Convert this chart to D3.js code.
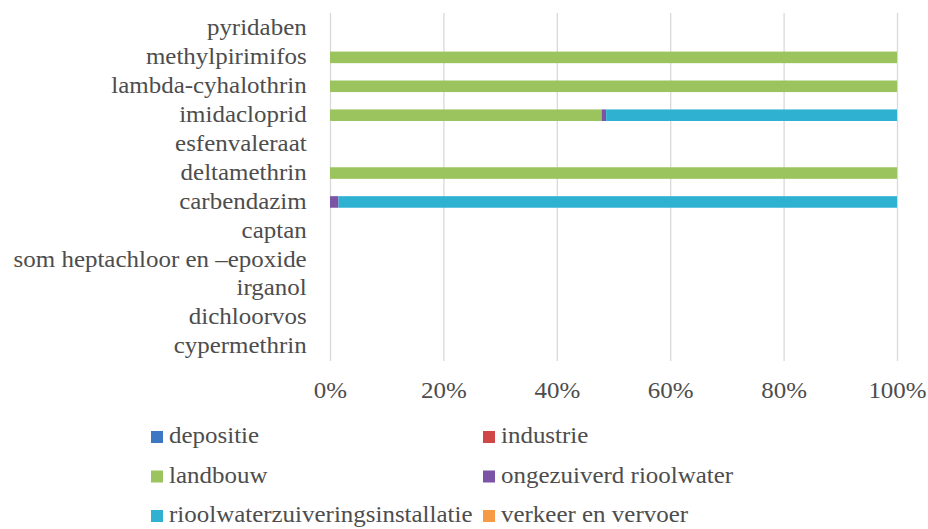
<!DOCTYPE html>
<html>
<head>
<meta charset="utf-8">
<script src="https://cdn.jsdelivr.net/npm/d3@7"></script>
<style>
  html, body { margin: 0; padding: 0; background: #fff; }
  text { font-family: "Liberation Serif", "Times New Roman", serif; fill: #4d4d4d; }
</style>
</head>
<body>
<div id="chart"></div>
<script>
const categories = [
  "pyridaben", "methylpirimifos", "lambda-cyhalothrin", "imidacloprid",
  "esfenvaleraat", "deltamethrin", "carbendazim", "captan",
  "som heptachloor en \u2013epoxide", "irganol", "dichloorvos", "cypermethrin"
];

const seriesNames = [
  "depositie", "industrie", "landbouw", "ongezuiverd rioolwater",
  "rioolwaterzuiveringsinstallatie", "verkeer en vervoer"
];

const seriesColours = ["#3d76c2", "#cf4747", "#9bc45f", "#7b54a6", "#2fb1d1", "#f79a46"];

// share per category (%), same order as categories
const depositie = [0, 0, 0, 0, 0, 0, 0, 0, 0, 0, 0, 0];
const industrie = [0, 0, 0, 0, 0, 0, 0, 0, 0, 0, 0, 0];
const landbouw = [0, 100, 100, 47.9, 0, 100, 0, 0, 0, 0, 0, 0];
const ongezuiverd = [0, 0, 0, 0.8, 0, 0, 1.5, 0, 0, 0, 0, 0];
const rwzi = [0, 0, 0, 51.3, 0, 0, 98.5, 0, 0, 0, 0, 0];
const verkeer = [0, 0, 0, 0, 0, 0, 0, 0, 0, 0, 0, 0];

const tickValues = [0, 20, 40, 60, 80, 100];
const tickLabels = ["0%", "20%", "40%", "60%", "80%", "100%"];

const w = 928;
const h = 529;
const margin = { top: 14, right: 31, bottom: 168, left: 330 };
const fontSize = 22.5;
const stretch = 1.11;

const seriesValues = [depositie, industrie, landbouw, ongezuiverd, rwzi, verkeer];
const rows = categories.map((c, i) => {
  const row = { category: c };
  seriesNames.forEach((s, j) => (row[s] = seriesValues[j][i]));
  return row;
});

const stacked = d3.stack().keys(seriesNames)(rows);

const svg = d3.select("#chart").append("svg").attr("width", w).attr("height", h);

const xScale = d3.scaleLinear().domain([0, 100]).range([margin.left, w - margin.right]);
const yScale = d3
  .scaleBand()
  .domain(categories)
  .range([margin.top, h - margin.bottom])
  .paddingInner(0.6)
  .paddingOuter(0.3);

// gridlines + x tick labels
const xAxis = svg
  .append("g")
  .attr("transform", `translate(0,${h - margin.bottom})`)
  .call(
    d3.axisBottom(xScale)
      .tickValues(tickValues)
      .tickSize(-(h - margin.top - margin.bottom + 1))
      .tickFormat((d, i) => tickLabels[i])
  );
xAxis.select(".domain").remove();
xAxis.selectAll(".tick line").attr("stroke", "#d9d9d9").attr("stroke-width", 1.3);
xAxis
  .selectAll(".tick text")
  .attr("y", 37)
  .attr("dy", 0)
  .attr("font-size", fontSize)
  .attr("transform", `scale(${stretch},1)`);

// category labels
const yAxis = svg
  .append("g")
  .attr("transform", `translate(${margin.left},0)`)
  .call(d3.axisLeft(yScale).tickSize(0));
yAxis.select(".domain").remove();
yAxis
  .selectAll(".tick text")
  .attr("x", 0)
  .attr("dy", "0.3em")
  .attr("font-size", fontSize)
  .attr("transform", `translate(-23.3,0) scale(${stretch},1)`);

// bars
svg
  .append("g")
  .selectAll("g")
  .data(stacked)
  .join("g")
  .attr("fill", (d, i) => seriesColours[i])
  .selectAll("rect")
  .data((d) => d.filter((p) => p[1] - p[0] > 0))
  .join("rect")
  .attr("x", (d) => xScale(d[0]))
  .attr("y", (d) => yScale(d.data.category))
  .attr("width", (d) => xScale(d[1]) - xScale(d[0]))
  .attr("height", yScale.bandwidth());

// legend
const legendCols = [151, 483];
const legendRows = [443, 482.5, 522];
const legend = svg
  .append("g")
  .selectAll("g")
  .data(seriesNames)
  .join("g")
  .attr("transform", (d, i) => `translate(${legendCols[i % 2]},${legendRows[Math.floor(i / 2)]})`);

legend
  .append("rect")
  .attr("x", 0)
  .attr("y", -12)
  .attr("width", 12)
  .attr("height", 12)
  .attr("fill", (d, i) => seriesColours[i]);

legend
  .append("text")
  .attr("x", 0)
  .attr("y", 0)
  .attr("font-size", fontSize)
  .attr("transform", `translate(18,0) scale(${stretch},1)`)
  .text((d) => d);
</script>
</body>
</html>
